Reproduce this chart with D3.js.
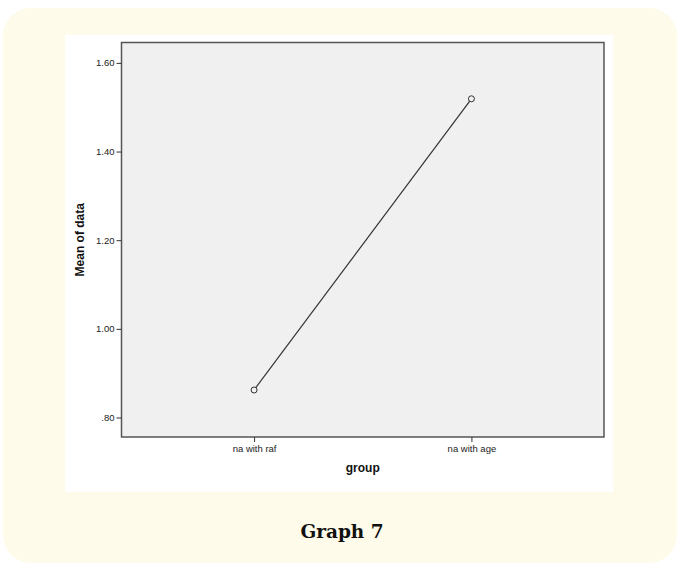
<!DOCTYPE html>
<html>
<head>
<meta charset="utf-8">
<script src="https://cdn.jsdelivr.net/npm/d3@7"></script>
<style>
  body { margin: 0; background: #fff; }
  svg { display: block; }
</style>
</head>
<body>
<div id="chart"></div>
<script>
// data
const groups = ['na with raf', 'na with age'];
const means = [0.862, 1.519];
const yTicks = [0.80, 1.00, 1.20, 1.40, 1.60];
const caption = 'Graph 7';

const W = 677, H = 564;
const margin = {left: 121.5, right: W - 604, top: 42.5, bottom: H - 437};

const svg = d3.select('#chart').append('svg')
    .attr('width', W)
    .attr('height', H);

// cream card with rounded corners
svg.append('rect')
    .attr('x', 3).attr('y', 8)
    .attr('width', 674).attr('height', 555)
    .attr('rx', 28).attr('ry', 28)
    .attr('fill', '#fffbea');

// white chart image area
svg.append('rect')
    .attr('x', 65).attr('y', 35)
    .attr('width', 548).attr('height', 457)
    .attr('fill', '#fff');

const x = d3.scalePoint()
    .domain(groups)
    .range([margin.left, W - margin.right])
    .padding(0.61);

const y = d3.scaleLinear()
    .domain([0.756, 1.646])
    .range([H - margin.bottom, margin.top]);

// plot background
svg.append('rect')
    .attr('x', margin.left).attr('y', margin.top)
    .attr('width', W - margin.right - margin.left)
    .attr('height', H - margin.bottom - margin.top)
    .attr('fill', '#f0f0f0')
    .attr('stroke', '#555')
    .attr('stroke-width', 1.5);

const fmt = d => d3.format('.2f')(d).replace(/^0/, '');

const yAxis = svg.append('g')
    .attr('transform', `translate(${margin.left},0)`)
    .call(d3.axisLeft(y).tickValues(yTicks).tickFormat(fmt).tickSize(5).tickPadding(2));
yAxis.select('.domain').remove();
yAxis.selectAll('line').attr('stroke', '#333');
yAxis.selectAll('text')
    .attr('font-family', 'Liberation Sans, Arial, sans-serif')
    .attr('font-size', 9.5)
    .attr('fill', '#222');

const xAxis = svg.append('g')
    .attr('transform', `translate(0,${H - margin.bottom})`)
    .call(d3.axisBottom(x).tickSize(5).tickPadding(3));
xAxis.select('.domain').remove();
xAxis.selectAll('line').attr('stroke', '#333');
xAxis.selectAll('text')
    .attr('font-family', 'Liberation Sans, Arial, sans-serif')
    .attr('font-size', 9.5)
    .attr('fill', '#222');

// axis titles
svg.append('text')
    .attr('transform', `translate(84,${(margin.top + H - margin.bottom) / 2}) rotate(-90)`)
    .attr('text-anchor', 'middle')
    .attr('font-family', 'Liberation Sans, Arial, sans-serif')
    .attr('font-weight', 'bold')
    .attr('font-size', 12)
    .attr('fill', '#111')
    .text('Mean of data');

svg.append('text')
    .attr('x', (margin.left + W - margin.right) / 2)
    .attr('y', 472)
    .attr('text-anchor', 'middle')
    .attr('font-family', 'Liberation Sans, Arial, sans-serif')
    .attr('font-weight', 'bold')
    .attr('font-size', 12)
    .attr('fill', '#111')
    .text('group');

// line and markers
const pts = groups.map((g, i) => ({g: g, v: means[i]}));

svg.append('path')
    .datum(pts)
    .attr('fill', 'none')
    .attr('stroke', '#333')
    .attr('stroke-width', 1.2)
    .attr('d', d3.line().x(d => x(d.g)).y(d => y(d.v)));

svg.selectAll('.pt')
    .data(pts)
    .join('circle')
    .attr('class', 'pt')
    .attr('cx', d => x(d.g))
    .attr('cy', d => y(d.v))
    .attr('r', 3)
    .attr('fill', '#f0f0f0')
    .attr('stroke', '#333')
    .attr('stroke-width', 1);

// caption
svg.append('text')
    .attr('x', 342)
    .attr('y', 538)
    .attr('text-anchor', 'middle')
    .attr('font-family', 'DejaVu Serif, serif')
    .attr('font-weight', 'bold')
    .attr('font-size', 18.5)
    .attr('fill', '#111')
    .text(caption);
</script>
</body>
</html>
